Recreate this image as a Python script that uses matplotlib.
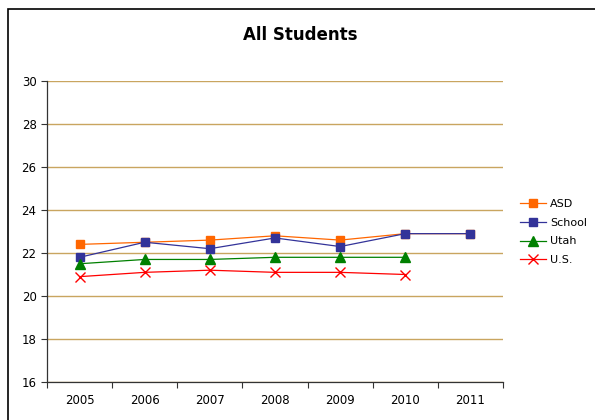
import matplotlib.pyplot as plt
from matplotlib.patches import Rectangle

# data
years = ['2005', '2006', '2007', '2008', '2009', '2010', '2011']
asd = [22.4, 22.5, 22.6, 22.8, 22.6, 22.9, 22.9]
school = [21.8, 22.5, 22.2, 22.7, 22.3, 22.9, 22.9]
utah = [21.5, 21.7, 21.7, 21.8, 21.8, 21.8]
us = [20.9, 21.1, 21.2, 21.1, 21.1, 21.0]

plt.rcParams['font.family'] = 'DejaVu Sans'

fig = plt.figure(figsize=(5.95, 4.2), dpi=100)
W, H = 595, 420
ax = fig.add_axes([47 / W, 1 - 382 / H, (503 - 47) / W, (382 - 81) / H])

x = list(range(len(years)))
ax.plot(x, asd, color='#FF6600', lw=0.9, marker='s', ms=6, mec='#FF6600', label='ASD')
ax.plot(x, school, color='#333399', lw=0.9, marker='s', ms=6, mec='#333399', label='School')
ax.plot(x[:len(utah)], utah, color='#008000', lw=0.9, marker='^', ms=7, label='Utah')
ax.plot(x[:len(us)], us, color='#FF0000', lw=0.9, marker='x', ms=7, mew=1.0, label='U.S.')

ax.set_xlim(-0.5, len(years) - 0.5)
ax.set_ylim(16, 30)
ax.set_yticks(range(16, 31, 2))
ax.set_xticks(x)
ax.set_xticklabels(years, fontsize=8.5)
ax.set_xticks([i - 0.5 for i in range(len(years) + 1)], minor=True)
ax.tick_params(axis='x', which='major', length=0, pad=9)
ax.tick_params(axis='x', which='minor', length=4, width=0.8, color='#333333')
ax.tick_params(axis='y', labelsize=8.5, length=4, width=0.8, color='#333333')

ax.grid(axis='y', color='#C9A560', lw=1.0)
ax.set_axisbelow(True)
for s in ['top', 'right']:
    ax.spines[s].set_visible(False)
for s in ['left', 'bottom']:
    ax.spines[s].set_color('#333333')
    ax.spines[s].set_linewidth(0.9)

fig.text(300 / W, 1 - 35 / H, 'All Students', ha='center', va='center',
         fontsize=12, fontweight='bold')

leg = ax.legend(loc='center left', bbox_to_anchor=(520 / W, 1 - 232 / H),
                bbox_transform=fig.transFigure, frameon=False, fontsize=8,
                handlelength=2.3, handletextpad=0.4, labelspacing=0.8,
                borderaxespad=0, borderpad=0)

fig.patches.append(Rectangle((8 / W, -0.1), 1.2, 1 - 9 / H + 0.1, transform=fig.transFigure,
                             fill=False, ec='black', lw=1.2))

fig.savefig('out.png', dpi=100)
